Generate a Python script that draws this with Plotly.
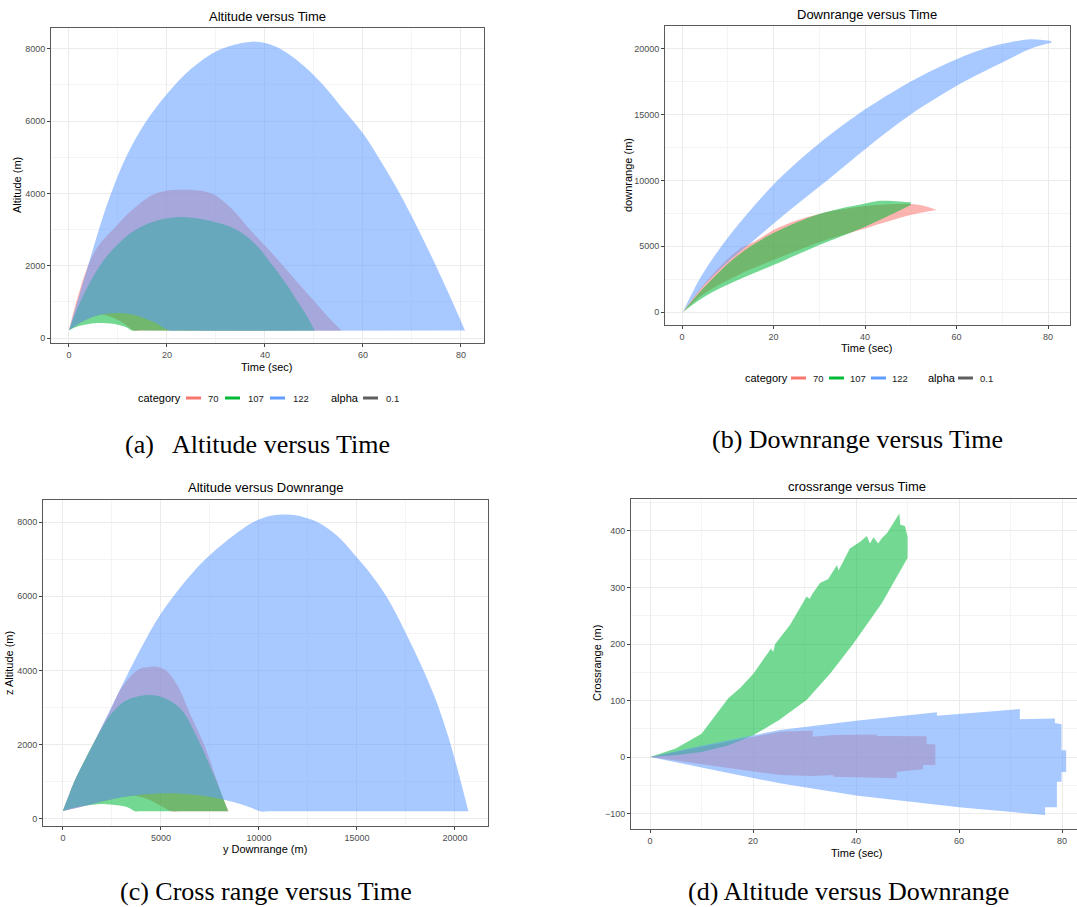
import plotly.graph_objects as go

W, H = 1077, 907

CATEGORIES = ["70", "107", "122"]
COLORS = {"70": "#F8766D", "107": "#00BA38", "122": "#619CFF"}
FILL_RGB = {"70": (248, 118, 109), "107": (0, 186, 56), "122": (97, 156, 255)}
FILL_ALPHA = 0.55
ALPHA_KEY_COLOR = "#5F5F5F"
ALPHA_LEVEL = "0.1"

# ---------------- Panel (a): Altitude versus Time ----------------
a70_hi_t = [0, 1.5, 3.9, 6, 9, 13, 17.8, 23.3, 29, 33, 36.9, 40.5, 43.7, 47, 50.5, 53, 55.6]
a70_hi_z = [212, 1000, 2000, 2550, 3000, 3550, 4000, 4101, 4000, 3600, 3000, 2480, 2000, 1480, 950, 570, 212]
a70_lo_t = [0, 3, 6, 7, 9, 11, 13.2, 15, 55.6]
a70_lo_z = [212, 470, 630, 644, 560, 420, 210, 205, 205]

a107_hi_t = [0, 2.3, 6.3, 10, 13.7, 18, 22.9, 28, 34.1, 38, 41.6, 44.3, 46.7, 48.5, 50.1]
a107_hi_z = [212, 1000, 2000, 2600, 3000, 3250, 3346, 3260, 3000, 2600, 2000, 1500, 1000, 620, 212]
a107_lo_t = [0, 2, 4, 6.9, 10, 12, 12.8, 14.5, 50.1]
a107_lo_z = [212, 330, 390, 415, 370, 280, 210, 205, 205]

a122_hi_t = [0, 2, 3.9, 6, 8.6, 12, 15.8, 20, 25, 30.1, 35, 37.5, 40, 42.5, 45.4, 48.8, 52.2,
             56, 60, 63.8, 67.5, 71.3, 75, 78, 80.8]
a122_hi_z = [212, 1130, 2000, 2950, 4000, 5100, 6000, 6750, 7450, 7930, 8150, 8195, 8160, 8040, 7800, 7420, 6948,
             6320, 5660, 4850, 3995, 3000, 1965, 1080, 212]
a122_lo_t = [0, 3, 6, 10.3, 14, 17.5, 20.5, 22.5, 80.8]
a122_lo_z = [212, 470, 630, 690, 610, 430, 210, 205, 205]

# ---------------- Panel (b): Downrange versus Time ----------------
b70_hi_t = [0.2, 4.9, 12.2, 15.9, 20, 25, 30, 35, 40, 45, 50, 53, 55.6]
b70_hi_d = [0, 2150, 4700, 5350, 6230, 6950, 7450, 7800, 8050, 8180, 8200, 8050, 7748]
b70_lo_t = [0.2, 4.9, 12.2, 20, 30, 40, 50, 55.6]
b70_lo_d = [0, 1400, 2800, 3950, 5300, 6350, 7368, 7748]

b107_hi_t = [0.2, 4.9, 12.2, 20, 30, 40, 42.8, 46, 50]
b107_hi_d = [0, 1900, 4300, 6000, 7450, 8250, 8440, 8440, 8330]
b107_lo_t = [0.2, 4.9, 12.2, 20, 30, 40, 50]
b107_lo_d = [0, 1165, 2430, 3570, 5089, 6482, 8128]

b122_hi_t = [0.2, 4, 8.6, 14, 20.9, 28.9, 38.4, 50, 58, 66, 72, 76.2, 80.7]
b122_hi_d = [0, 2600, 5000, 7350, 10000, 12500, 15000, 17500, 18900, 20000, 20500, 20712, 20585]
b122_lo_t = [0.2, 5, 10, 14.5, 23.6, 31.9, 40.5, 50, 61.7, 70, 76.2, 80.7]
b122_lo_d = [0, 2100, 3800, 5100, 7750, 10050, 12500, 15000, 17500, 18950, 20000, 20450]

# ---------------- Panel (c): Altitude versus Downrange ----------------
c70_hi_d = [0, 300, 612, 1600, 2398, 2994, 3844, 4300, 4779, 5300, 5900, 6395, 7245, 7840, 8150, 8450]
c70_hi_z = [230, 640, 1050, 2080, 2900, 3540, 4030, 4090, 4103, 3980, 3540, 2936, 1949, 1050, 580, 212]
c70_lo_d = [0, 1300, 3000, 3700, 4300, 5000, 5540, 6000, 8450]
c70_lo_z = [212, 380, 585, 620, 540, 350, 205, 205, 205]

c107_hi_d = [0, 300, 612, 1600, 2100, 2483, 3000, 3333, 3900, 4524, 5200, 6054, 6904, 7585, 8000, 8420]
c107_hi_z = [230, 640, 1050, 2080, 2550, 2846, 3120, 3220, 3310, 3340, 3250, 2936, 2128, 1320, 800, 212]
c107_lo_d = [0, 700, 1500, 2200, 2900, 3400, 3670, 4000, 8420]
c107_lo_z = [212, 320, 385, 400, 360, 290, 205, 205, 205]

c122_hi_d = [0, 300, 612, 1600, 2568, 3844, 5034, 6735, 7680, 8700, 9720, 10600, 11420, 12300, 13120,
             14000, 14820, 15700, 16520, 17500, 18390, 19100, 19660, 20200, 20680]
c122_hi_z = [230, 640, 1050, 2080, 3117, 4463, 5560, 6707, 7200, 7640, 8000, 8170, 8200, 8130, 7960,
             7620, 7150, 6600, 5980, 5000, 4010, 3100, 2215, 1200, 212]
c122_lo_d = [0, 1300, 3000, 5200, 7250, 8270, 9000, 9600, 10060, 10600, 20680]
c122_lo_z = [212, 380, 585, 695, 620, 510, 410, 300, 205, 205, 205]

# ---------------- Panel (d): Crossrange versus Time ----------------
d70_hi_t = [0, 10, 25.2, 31.6, 31.6, 35.6, 44, 44, 53.7, 53.7, 55.4]
d70_hi_c = [0, 18, 44.8, 47, 36, 39, 40, 37, 36.6, 22.4, 22.4]
d70_lo_t = [0, 10, 25.2, 31.6, 35.6, 35.6, 47.9, 47.9, 53, 53, 55.4]
d70_lo_c = [0, -13, -32, -33.5, -32, -35, -37.8, -26, -21.8, -14, -14]

d107_hi_t = [0, 5, 10, 15.2, 17.5, 20.1, 23.5, 23.9, 24.3, 27.2, 30.4, 31.0, 31.6, 33.0, 34.6, 36.3, 36.6,
             38.8, 40.8, 42.1, 42.7, 43.4, 44.3, 45.0, 46.0, 48.4, 48.6, 49.5, 50.0]
d107_hi_c = [0, 15, 41, 104, 122, 148, 192, 186, 200, 234, 284, 280, 290, 308, 315, 340, 330,
             369, 381, 391, 378, 389, 378, 387, 396, 431, 411, 409, 390]
d107_lo_t = [0, 5, 10, 15, 20, 25, 30.4, 35, 39.5, 45, 50.0]
d107_lo_c = [0, 3, 9, 20, 38, 65, 101, 148, 201, 272, 352]

d122_hi_t = [0, 10, 25.2, 40, 55.7, 55.7, 71.8, 71.8, 78.6, 78.6, 79.9, 79.9, 80.8]
d122_hi_c = [0, 20, 47.8, 64, 79, 73, 85, 67, 68, 60, 58, 12, 12]
d122_lo_t = [0, 10, 25.2, 40, 60, 76.7, 76.7, 79.0, 79.0, 79.9, 79.9, 80.8]
d122_lo_c = [0, -18, -46.6, -68, -89, -102.7, -89, -89, -43.6, -43.6, -26.5, -26.5]

PANELS = [
    # (xaxis id, yaxis id, edge shape, {category: (hi_x, hi_y, lo_x, lo_y)})
    ("x", "y", "spline", {"70": (a70_hi_t, a70_hi_z, a70_lo_t, a70_lo_z),
                          "107": (a107_hi_t, a107_hi_z, a107_lo_t, a107_lo_z),
                          "122": (a122_hi_t, a122_hi_z, a122_lo_t, a122_lo_z)}),
    ("x2", "y2", "spline", {"70": (b70_hi_t, b70_hi_d, b70_lo_t, b70_lo_d),
                            "107": (b107_hi_t, b107_hi_d, b107_lo_t, b107_lo_d),
                            "122": (b122_hi_t, b122_hi_d, b122_lo_t, b122_lo_d)}),
    ("x3", "y3", "spline", {"70": (c70_hi_d, c70_hi_z, c70_lo_d, c70_lo_z),
                            "107": (c107_hi_d, c107_hi_z, c107_lo_d, c107_lo_z),
                            "122": (c122_hi_d, c122_hi_z, c122_lo_d, c122_lo_z)}),
    ("x4", "y4", "linear", {"70": (d70_hi_t, d70_hi_c, d70_lo_t, d70_lo_c),
                            "107": (d107_hi_t, d107_hi_c, d107_lo_t, d107_lo_c),
                            "122": (d122_hi_t, d122_hi_c, d122_lo_t, d122_lo_c)}),
]


def rgba(cat):
    r, g, b = FILL_RGB[cat]
    return f"rgba({r},{g},{b},{FILL_ALPHA})"


fig = go.Figure()
for xa, ya, shape, bands in PANELS:
    for cat in CATEGORIES:
        hx, hy, lx, ly = bands[cat]
        # lower edge of the ribbon (invisible), then upper edge filled down to it
        fig.add_trace(go.Scatter(
            x=lx, y=ly, mode="lines",
            line=dict(width=0, color=rgba(cat), shape=shape, smoothing=1.0),
            xaxis=xa, yaxis=ya, showlegend=False, hoverinfo="skip",
        ))
        fig.add_trace(go.Scatter(
            x=hx, y=hy, mode="lines", fill="tonexty", fillcolor=rgba(cat),
            line=dict(width=0, color=rgba(cat), shape=shape, smoothing=1.0),
            xaxis=xa, yaxis=ya, name=cat, showlegend=False, hoverinfo="skip",
        ))


def px_x(p):
    return p / W


def px_y(p):
    return 1 - p / H


TICK_FONT = dict(family="Liberation Sans, Arial, sans-serif", size=9, color="#4D4D4D")


def axis_style(domain, rng, dtick, minor_dtick, anchor, mirror=True):
    return dict(
        domain=domain, range=rng, anchor=anchor,
        tickmode="linear", tick0=0, dtick=dtick, tickformat="d",
        showline=True, linecolor="#5A5A5A", linewidth=1, mirror=mirror,
        ticks="outside", ticklen=3, tickwidth=1, tickcolor="#444444",
        showgrid=True, gridcolor="#EBEBEB", gridwidth=1,
        zeroline=False, tickfont=TICK_FONT,
        minor=dict(showgrid=True, gridcolor="#F4F4F4", gridwidth=0.6, dtick=minor_dtick, tick0=0),
        fixedrange=True,
    )


fig.update_layout(
    width=W, height=H, margin=dict(l=0, r=0, t=0, b=0),
    paper_bgcolor="white", plot_bgcolor="white", showlegend=False,
    xaxis=axis_style([px_x(51), px_x(484)], [-3.67, 84.7], 20, 10, "y"),
    yaxis=axis_style([px_y(343), px_y(28)], [-138, 8572], 2000, 1000, "x"),
    xaxis2=axis_style([px_x(665), px_x(1070)], [-3.72, 84.8], 20, 10, "y2"),
    yaxis2=axis_style([px_y(325), px_y(26)], [-987, 21724], 5000, 2500, "x2"),
    xaxis3=axis_style([px_x(43), px_x(488)], [-1020, 21684], 5000, 2500, "y3"),
    yaxis3=axis_style([px_y(826), px_y(500)], [-189, 8593], 2000, 1000, "x3"),
    xaxis4=axis_style([px_x(631), 1.0], [-3.69, 82.9], 20, 10, "y4"),
    yaxis4=axis_style([px_y(829), px_y(499)], [-127.4, 456.6], 100, 50, "x4", mirror=False),
)

SANS = "Liberation Sans, Arial, sans-serif"
SERIF = "Liberation Serif, Times New Roman, serif"
annotations = []


def text(x, y, s, size, family=SANS, color="#000000", angle=0, xanchor="center"):
    annotations.append(dict(
        x=px_x(x), y=px_y(y), xref="paper", yref="paper", text=s, showarrow=False,
        xanchor=xanchor, yanchor="middle", textangle=angle,
        font=dict(family=family, size=size, color=color),
    ))


# panel titles
text(267, 16, "Altitude versus Time", 13)
text(867, 15, "Downrange versus Time", 13)
text(265, 488, "Altitude versus Downrange", 13)
text(857, 486, "crossrange versus Time", 13)
# axis titles
text(267, 367, "Time (sec)", 11)
text(867, 348, "Time (sec)", 11)
text(265, 849, "y Downrange (m)", 11)
text(857, 853, "Time (sec)", 11)
text(17, 185, "Altitude (m)", 11, angle=-90)
text(628, 175, "downrange (m)", 11, angle=-90)
text(9, 663, "z Altitude (m)", 11, angle=-90)
text(597, 663, "Crossrange (m)", 11, angle=-90)
# captions
text(257, 445, "(a)\u00a0\u00a0 Altitude versus Time", 26, family=SERIF)
text(857, 440, "(b) Downrange versus Time", 26, family=SERIF)
text(266, 891, "(c) Cross range versus Time", 26, family=SERIF)
text(848, 891, "(d) Altitude versus Downrange", 26, family=SERIF)

# legends (panels a and b)
shapes = []


def legend_row(x0, y, key_x, label_x, alpha_x, alpha_key_x, alpha_lbl_x):
    text(x0, y, "category", 11, xanchor="left")
    for cat, kx, lx in zip(CATEGORIES, key_x, label_x):
        shapes.append(dict(type="line", xref="paper", yref="paper",
                           x0=px_x(kx), x1=px_x(kx + 15), y0=px_y(y), y1=px_y(y),
                           line=dict(color=COLORS[cat], width=3)))
        text(lx, y, cat, 9.5, color="#222222", xanchor="left")
    text(alpha_x, y, "alpha", 11, xanchor="left")
    shapes.append(dict(type="line", xref="paper", yref="paper",
                       x0=px_x(alpha_key_x), x1=px_x(alpha_key_x + 15), y0=px_y(y), y1=px_y(y),
                       line=dict(color=ALPHA_KEY_COLOR, width=3)))
    text(alpha_lbl_x, y, ALPHA_LEVEL, 9.5, color="#222222", xanchor="left")


legend_row(136, 398, [186, 225, 270], [206, 246, 291], 329, 363, 384)
legend_row(743, 378, [791, 829, 871], [811, 848, 890], 926, 958, 978)

fig.update_layout(annotations=annotations, shapes=shapes)
fig.write_html("out.html")
